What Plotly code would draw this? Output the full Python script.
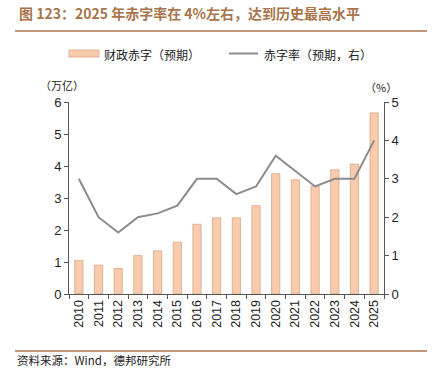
import plotly.graph_objects as go

years = [str(y) for y in range(2010, 2026)]
deficit = [1.05, 0.9, 0.8, 1.2, 1.35, 1.62, 2.18, 2.38, 2.38, 2.76, 3.76, 3.57, 3.37, 3.88, 4.06, 5.66]
deficit_rate = [3.0, 2.0, 1.6, 2.0, 2.1, 2.3, 3.0, 3.0, 2.6, 2.8, 3.6, 3.2, 2.8, 3.0, 3.0, 4.0]

W, H = 434, 375
L, R, T, B = 69, 50, 102, 81
pw, ph = W - L - R, H - T - B

def px(x):
    return (x - L) / pw

def py(y):
    return (H - B - y) / ph

bar_color = "#f8cbad"
line_color = "#8c8c8c"
brown = "#a8744a"
cjk = "Noto Sans CJK SC"
latin = "Liberation Sans, Arial, sans-serif"

fig = go.Figure()
fig.add_trace(go.Bar(x=years, y=deficit, name="财政赤字（预期）",
                     marker=dict(color=bar_color, line=dict(color="#d9a888", width=0.8)),
                     width=0.42, yaxis="y"))
fig.add_trace(go.Scatter(x=years, y=deficit_rate, name="赤字率（预期，右）", mode="lines",
                         line=dict(color=line_color, width=2), yaxis="y2"))

axis_common = dict(showgrid=False, zeroline=False, showline=True, linecolor="#555555", linewidth=1,
                   ticks="outside", ticklen=4, tickcolor="#555555",
                   tickfont=dict(family=latin, size=13, color="#222222"))

fig.update_layout(
    width=W, height=H, margin=dict(l=L, r=R, t=T, b=B, autoexpand=False),
    paper_bgcolor="white", plot_bgcolor="white", showlegend=False,
    xaxis=dict(type="category", tickangle=-90, tickson="boundaries", **axis_common),
    yaxis=dict(range=[0, 6], dtick=1, **axis_common),
    yaxis2=dict(range=[0, 5], dtick=1, overlaying="y", side="right", **axis_common),
)
fig.update_xaxes(tickfont=dict(family=latin, size=12.5, color="#222222"))

shapes = [
    dict(type="line", xref="paper", yref="paper", x0=px(15), x1=px(427), y0=py(31), y1=py(31),
         line=dict(color=brown, width=1.5)),
    dict(type="line", xref="paper", yref="paper", x0=px(15), x1=px(427), y0=py(351), y1=py(351),
         line=dict(color=brown, width=1.5)),
    dict(type="rect", xref="paper", yref="paper", x0=px(69), x1=px(99), y0=py(57), y1=py(50),
         fillcolor=bar_color, line=dict(color="#d9a888", width=0.8)),
    dict(type="line", xref="paper", yref="paper", x0=px(229), x1=px(258), y0=py(53.5), y1=py(53.5),
         line=dict(color=line_color, width=2)),
]
annotations = [
    dict(text="<b>图 123：2025 年赤字率在 4%左右，达到历史最高水平</b>", x=px(17), y=py(13),
         xanchor="left", yanchor="middle", font=dict(family=cjk, size=14, color=brown)),
    dict(text="财政赤字（预期）", x=px(102), y=py(54), xanchor="left", yanchor="middle",
         font=dict(family=cjk, size=12, color="#222222")),
    dict(text="赤字率（预期，右）", x=px(262), y=py(54), xanchor="left", yanchor="middle",
         font=dict(family=cjk, size=12, color="#222222")),
    dict(text="（万亿）", x=px(62), y=py(85), xanchor="center", yanchor="middle",
         font=dict(family=cjk, size=11, color="#222222")),
    dict(text="（%）", x=px(381), y=py(87), xanchor="center", yanchor="middle",
         font=dict(family=cjk, size=11, color="#222222")),
    dict(text="资料来源：Wind，德邦研究所", x=px(15), y=py(360), xanchor="left", yanchor="middle",
         font=dict(family=cjk, size=11.5, color="#222222")),
]
for a in annotations:
    a.update(xref="paper", yref="paper", showarrow=False)
fig.update_layout(shapes=shapes, annotations=annotations)

fig.write_html("out.html", config={"displayModeBar": False},
               post_script="document.body.style.margin='0';document.body.style.padding='0';")
